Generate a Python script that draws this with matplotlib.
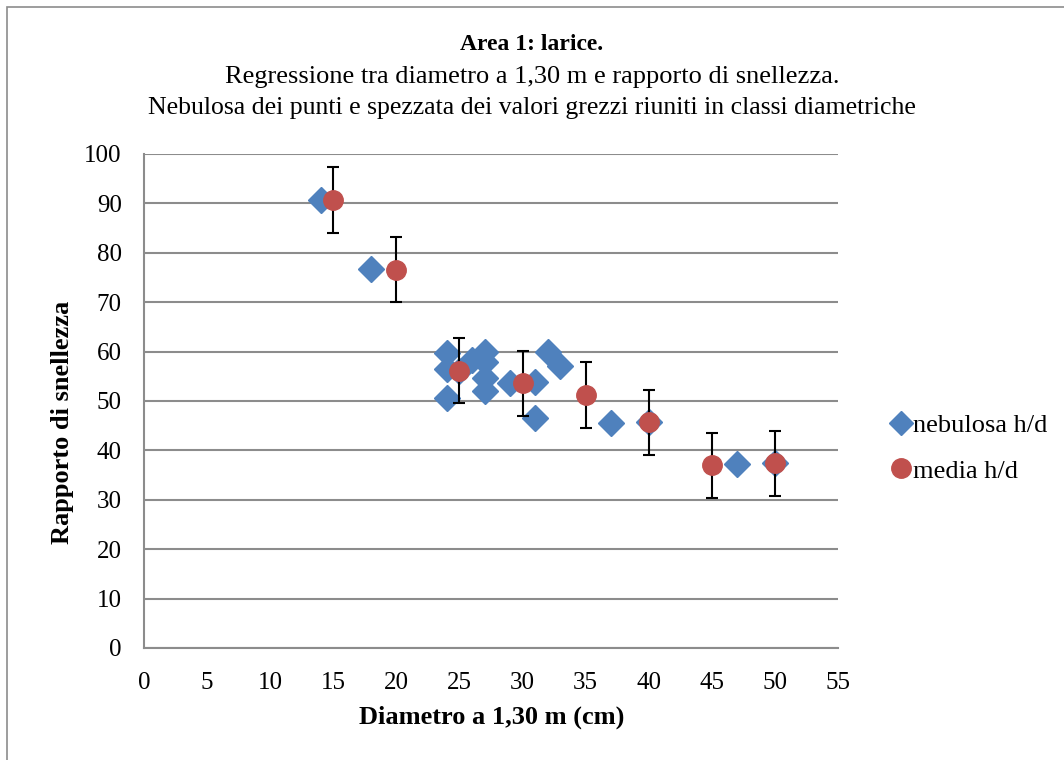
import matplotlib
matplotlib.use("Agg")
import matplotlib.pyplot as plt
from matplotlib.patches import Rectangle

# Data
neb_x = [14, 18, 24, 24, 24, 25, 26, 27, 27, 27, 27, 29, 31, 31, 32, 33, 37, 40, 47, 50]
neb_y = [90.7, 76.7, 59.7, 56.5, 50.6, 56.0, 58.3, 59.9, 57.9, 54.7, 52.0, 53.6, 53.8, 46.5, 59.9, 57.1, 45.5, 45.7, 37.2, 37.4]
media_x = [15, 20, 25, 30, 35, 40, 45, 50]
media_y = [90.7, 76.6, 56.1, 53.6, 51.2, 45.7, 37.0, 37.4]
media_err = [6.6, 6.6, 6.6, 6.6, 6.6, 6.6, 6.6, 6.6]
xticks = list(range(0, 56, 5))
yticks = list(range(0, 101, 10))

plt.rcParams['font.family'] = ['Liberation Serif', 'DejaVu Serif']

W, H = 1064, 760
fig = plt.figure(figsize=(W / 100, H / 100), dpi=100)

# outer chart border
fig.patches.append(Rectangle((7 / W, -0.01), 1.1, (H - 7) / H + 0.01, transform=fig.transFigure,
                             fill=False, edgecolor='#8c8c8c', linewidth=1.2))

ax = fig.add_axes([144 / W, 1 - 648 / H, (838 - 144) / W, (648 - 154) / H])
ax.set_xlim(0, 55)
ax.set_ylim(0, 100)
ax.set_xticks(xticks)
ax.set_yticks(yticks)
ax.tick_params(axis='x', length=0, labelsize=18, pad=17)
ax.tick_params(axis='y', length=0, labelsize=18, pad=16)
ax.grid(axis='y', color='#8c8c8c', linewidth=1.5)
ax.set_axisbelow(True)
for s in ['top', 'right']:
    ax.spines[s].set_visible(False)
for s in ['left', 'bottom']:
    ax.spines[s].set_color('#8c8c8c')
    ax.spines[s].set_linewidth(1.5)

ax.plot(neb_x, neb_y, linestyle='none', marker='D', markersize=13, color='#4f81bd',
        label='nebulosa h/d', clip_on=False, zorder=3)
ax.errorbar(media_x, media_y, yerr=media_err, fmt='o', markersize=14, color='#c0504d',
            ecolor='black', elinewidth=1.5, capsize=4.5, capthick=1.5, label='media h/d', zorder=4)

ax.set_xlabel('Diametro a 1,30 m (cm)', fontsize=19, fontweight='bold')
ax.set_ylabel('Rapporto di snellezza', fontsize=19, fontweight='bold')
ax.xaxis.set_label_coords(492 / W, 1 - 717 / H, transform=fig.transFigure)
ax.xaxis.label.set_va('center')
ax.yaxis.set_label_coords(62 / W, 1 - 422 / H, transform=fig.transFigure)
ax.yaxis.label.set_va('center')

fig.text(0.5, 1 - 45 / H, 'Area 1: larice.', ha='center', va='center', fontsize=17, fontweight='bold')
fig.text(0.5, 1 - 77 / H, 'Regressione tra diametro a 1,30 m e rapporto di snellezza.', ha='center', va='center', fontsize=19)
fig.text(0.5, 1 - 108 / H, 'Nebulosa dei punti e spezzata dei valori grezzi riuniti in classi diametriche', ha='center', va='center', fontsize=18.5)

h1 = plt.Line2D([], [], linestyle='none', marker='D', markersize=12, color='#4f81bd')
h2 = plt.Line2D([], [], linestyle='none', marker='o', markersize=14, color='#c0504d')
fig.legend([h1, h2], ['nebulosa h/d', 'media h/d'], loc='center left',
           bbox_to_anchor=(891 / W, 1 - 448 / H), frameon=False, fontsize=19,
           handlelength=0.75, handletextpad=0.1, labelspacing=0.85, borderaxespad=0, borderpad=0)

fig.savefig('out.png', dpi=100)
